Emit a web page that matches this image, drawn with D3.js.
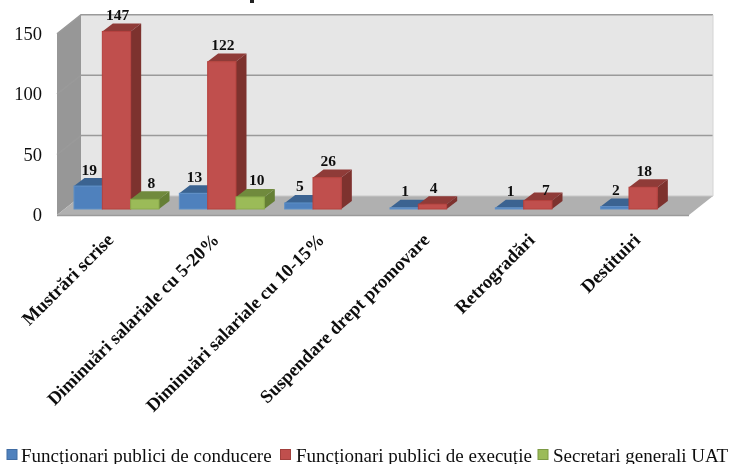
<!DOCTYPE html>
<html><head><meta charset="utf-8">
<script src="https://cdnjs.cloudflare.com/ajax/libs/d3/7.8.5/d3.min.js"></script>
<style>html,body{margin:0;padding:0;background:#fff;overflow:hidden}svg{display:block}text{font-family:"Liberation Serif",serif;fill:#111}</style>
</head><body><div id="c"></div>
<script>
const categories=["Mustrări scrise","Diminuări salariale cu 5-20%","Diminuări salariale cu 10-15%","Suspendare drept promovare","Retrogradări","Destituiri"];
const seriesNames=["Funcționari publici de conducere","Funcționari publici de execuție","Secretari generali UAT"];
const conducere=[19,13,5,1,1,2];
const executie=[147,122,26,4,7,18];
const secretari=[8,10,null,null,null,null];
const yTicks=[0,50,100,150];
const colors=[{f:"#4f81bd",t:"#3a6391",s:"#335a87",e:"#5f8fc6",b:"#3f6ca3"},{f:"#c0504d",t:"#8f3a38",s:"#7d302e",e:"#b5403d",b:"#a23f3c"},{f:"#9bbb59",t:"#6f8a3c",s:"#657f36",e:"#8aab4a",b:"#7c9a45"}];
const seriesVals=[conducere,executie,secretari];
const W=732,H=464,dx=24,dy=19,bdx=10.5,bdy=8;
const svg=d3.select("#c").append("svg").attr("width",W).attr("height",H);
const defs=svg.append("defs");
defs.append("filter").attr("id","soft").append("feGaussianBlur").attr("stdDeviation",0.35);
const root=svg.append("g").attr("filter","url(#soft)");
const y=d3.scaleLinear().domain([0,150]).range([215,33.8]);
const x0=d3.scaleBand().domain(categories).range([64,696]);
const x1=d3.scaleBand().domain([0,1,2]).range([10,95]);
const poly=(pts,fill)=>root.append("polygon").attr("points",pts.map(p=>p.join(",")).join(" ")).attr("fill",fill);
const xL=57,xR=689,y0=y(0),yT=y(150);
poly([[xL+dx,yT-dy],[xR+dx,yT-dy],[xR+dx,y0-dy],[xL+dx,y0-dy]],"#e6e6e6");
poly([[xL,yT],[xL+dx,yT-dy],[xL+dx,y0-dy],[xL,y0]],"#979797");
poly([[xL,y0],[xL+dx,y0-dy],[xR+dx,y0-dy],[xR,y0]],"#b0b0b0");
root.append("line").attr("x1",xL).attr("x2",xR).attr("y1",y0+.5).attr("y2",y0+.5).attr("stroke","#9a9a9a").attr("stroke-width",1.5);
root.append("line").attr("x1",xL+dx).attr("x2",xR+dx).attr("y1",y0-dy).attr("y2",y0-dy).attr("stroke","#c8c8c8");
yTicks.filter(t=>t>0).forEach(t=>{
  root.append("path").attr("d",`M${xL},${y(t)}L${xL+dx},${y(t)-dy}H${xR+dx}`).attr("fill","none").attr("stroke","#9a9a9a").attr("stroke-width",1.5);
});
root.append("line").attr("x1",xR+dx).attr("x2",xR+dx).attr("y1",yT-dy).attr("y2",y0-dy).attr("stroke","#d4d4d4");
root.selectAll(".yt").data(yTicks).join("text").attr("x",42).attr("y",d=>y(d)+6).attr("text-anchor","end").style("font-size","18.5px").text(d=>d);
const base=y0-6;
const h=y.copy().range([0,y(0)-y(150)]);
categories.forEach((c,ci)=>{
  [0,1,2].forEach(si=>{
    const v=seriesVals[si][ci]; if(v==null) return;
    const col=colors[si],l=x0(c)+x1(si),w=x1.bandwidth(),r=l+w,tp=base-h(v);
    poly([[l,tp],[l+bdx,tp-bdy],[r+bdx,tp-bdy],[r,tp]],col.t);
    poly([[r,tp],[r+bdx,tp-bdy],[r+bdx,base-bdy],[r,base]],col.s);
    root.append("rect").attr("x",l).attr("y",tp).attr("width",w).attr("height",base-tp).attr("fill",col.f).attr("stroke",col.e).attr("stroke-width",1);
  });
});
categories.forEach((c,ci)=>{
  [0,1,2].forEach(si=>{
    const v=seriesVals[si][ci]; if(v==null) return;
    const low=si===1&&ci===4;
    const lx=x0(c)+x1(si)+x1.bandwidth()/2+(si===2?6.5:(low?8:1));
    root.append("text").attr("x",lx).attr("y",base-h(v)-(low?5.6:11.5)).attr("text-anchor","middle").style("font-size","15.5px").style("font-weight","700").text(v);
  });
});
categories.forEach(c=>{
  const px=x0(c)+x1.bandwidth()+x1(1)-16;
  root.append("text").attr("transform",`translate(${px},241) rotate(-45)`).attr("text-anchor","end").style("font-size","18.5px").style("font-weight","700").text(c);
});
const lgX=[7,280.5,538],lgT=[21,296,553];
seriesNames.forEach((n,i)=>{
  root.append("rect").attr("x",lgX[i]).attr("y",449.5).attr("width",10).attr("height",10).attr("fill",colors[i].f).attr("stroke",colors[i].b).attr("stroke-width",1);
  root.append("text").attr("x",lgT[i]).attr("y",461.5).style("font-size","19px").text(n);
});
// remnant of the cropped title descender visible at the top edge
root.append("rect").attr("x",250).attr("y",0).attr("width",4).attr("height",3).attr("fill","#222");
</script></body></html>
